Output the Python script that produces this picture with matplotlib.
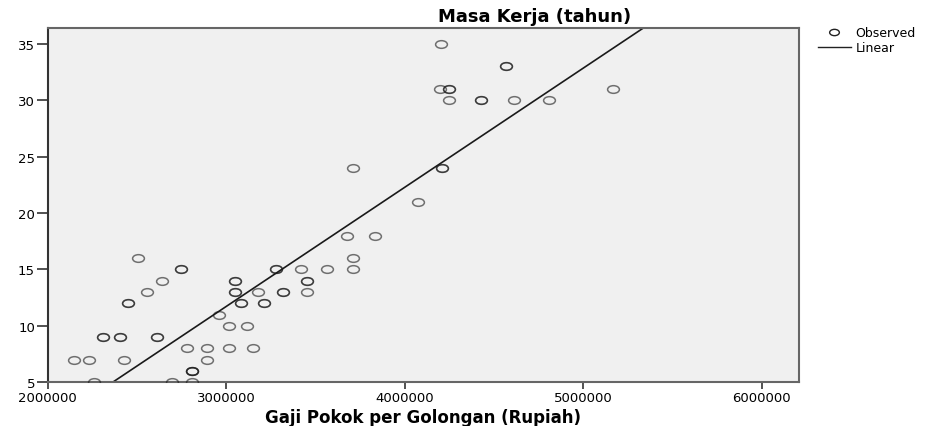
import numpy as np
import matplotlib
matplotlib.use("Agg")
import matplotlib.pyplot as plt
from matplotlib.path import Path
from matplotlib.lines import Line2D

# observed points (repeated entries are overlapping cases)
gaji_pokok = [2150000, 2234000, 2262000, 2309000, 2309000, 2406000, 2406000,
              2429000, 2453000, 2453000, 2509000, 2557000, 2613000, 2613000,
              2641000, 2696000, 2750000, 2750000, 2780000, 2811000, 2811000,
              2811000, 2811000, 2895000, 2895000, 2959000, 3019000, 3019000,
              3053000, 3053000, 3053000, 3053000, 3084000, 3084000, 3116000,
              3150000, 3179000, 3213000, 3213000, 3280000, 3280000, 3318000,
              3318000, 3420000, 3456000, 3456000, 3456000, 3564000, 3676000,
              3713000, 3713000, 3713000, 3833000, 4077000, 4199000,
              4204000, 4208000, 4208000, 4249000, 4249000, 4249000, 4427000,
              4427000, 4569000, 4569000, 4615000, 4811000, 5170000]
masa_kerja = [7, 7, 5, 9, 9, 9, 9,
              7, 12, 12, 16, 13, 9, 9,
              14, 5, 15, 15, 8, 6, 6,
              6, 5, 8, 7, 11, 10, 8,
              14, 14, 13, 13, 12, 12, 10,
              8, 13, 12, 12, 15, 15, 13,
              13, 15, 14, 14, 13, 15, 18,
              16, 15, 24, 18, 21, 31,
              35, 24, 24, 31, 31, 30, 30,
              30, 33, 33, 30, 30, 31]

# linear fit
fit_intercept = -19.97
fit_slope = 1.056e-5

x_ticks = [2000000, 3000000, 4000000, 5000000, 6000000]
y_ticks = [5, 10, 15, 20, 25, 30, 35]

W, H = 936, 427
fig = plt.figure(figsize=(W / 100, H / 100), dpi=100)
ax = fig.add_axes([47.5 / W, 1 - 383.3 / H, (799 - 47.5) / W, (383.3 - 29) / H])
ax.set_facecolor("#f0f0f0")

# flattened circle, like the SPSS markers
circ = Path.unit_circle()
ellipse = Path(circ.vertices * np.array([1.0, 0.65]), circ.codes)

ax.plot(gaji_pokok, masa_kerja, linestyle="none", marker=ellipse,
        markersize=8.5, markerfacecolor="none", markeredgecolor=(0.1, 0.1, 0.1, 0.6),
        markeredgewidth=1.1, zorder=3)

x_line = np.array([2000000, 6210000])
ax.plot(x_line, fit_intercept + fit_slope * x_line, color="#1a1a1a", linewidth=1.2, zorder=2)

ax.set_xlim(2000000, 6210000)
ax.set_ylim(5, 36.4)
ax.set_xticks(x_ticks)
ax.set_xticklabels([str(v) for v in x_ticks])
ax.set_yticks(y_ticks)
ax.tick_params(axis="y", length=8, width=1.2, pad=1, labelsize=9.5, color="#333333")
ax.tick_params(axis="x", length=5, width=1.2, pad=1, labelsize=9.5, color="#333333")
for s in ax.spines.values():
    s.set_color("#666666")
    s.set_linewidth(1.5)
ax.spines["left"].set_color("#333333")

ax.set_xlabel("Gaji Pokok per Golongan (Rupiah)", fontsize=12, fontweight="bold", labelpad=3)
fig.text(535 / W, 1 - 17 / H, "Masa Kerja (tahun)", ha="center", va="center",
         fontsize=13, fontweight="bold")

handles = [
    Line2D([], [], linestyle="none", marker=ellipse, markersize=7,
           markerfacecolor="none", markeredgecolor="#222222", markeredgewidth=1),
    Line2D([], [], color="#222222", linewidth=1),
]
fig.legend(handles, ["Observed", "Linear"], loc="upper left",
           bbox_to_anchor=(818 / W, 1 - 27 / H), frameon=False, fontsize=9,
           handlelength=2.6, handletextpad=0.4, labelspacing=0.2, borderpad=0,
           borderaxespad=0)

fig.savefig("out.png", dpi=100)
